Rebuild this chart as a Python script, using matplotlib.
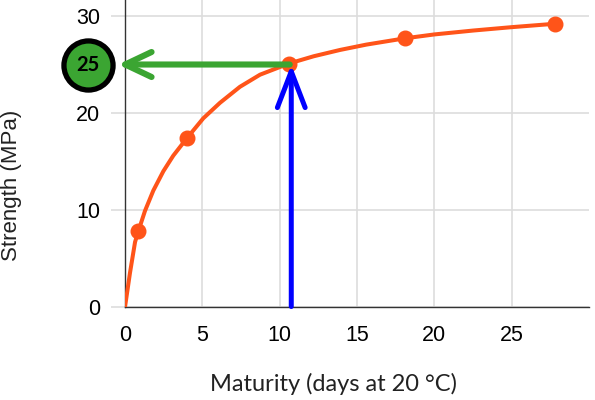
import matplotlib
matplotlib.use("Agg")
import matplotlib.pyplot as plt

# measured strength points (maturity in days at 20 C, strength in MPa)
pt_days = [0.86, 4.0, 10.6, 18.1, 27.8]
pt_mpa = [7.8, 17.4, 25.1, 27.7, 29.2]

# strength-maturity curve
curve_days = [0.0, 0.32, 0.65, 0.86, 1.29, 1.83, 2.48, 3.12, 4.0, 5.06, 6.14, 7.43,
              8.73, 10.6, 12.2, 13.9, 15.6, 18.1, 20.0, 22.5, 25.0, 27.8]
curve_mpa = [0.0, 3.5, 6.7, 7.8, 9.9, 12.0, 14.0, 15.6, 17.4, 19.45, 21.05, 22.7,
             23.95, 25.1, 25.85, 26.5, 27.05, 27.7, 28.1, 28.5, 28.85, 29.2]

target_mpa = 25
target_days = 10.75
x_ticks = [0, 5, 10, 15, 20, 25]
y_ticks = [0, 10, 20, 30]

orange = "#ff5419"
green = "#3ba532"
blue = "#0000ff"

fig = plt.figure(figsize=(5.95, 4.0), dpi=100)
ax = fig.add_axes([125 / 595, 1 - 307 / 400, 464 / 595, 307 / 400])
ax.set_xlim(0, 30)
ax.set_ylim(0, 31.65)

ax.set_xticks(x_ticks)
ax.set_yticks(y_ticks)
ax.grid(True, color="#dddddd", lw=1.2, zorder=0)
ax.set_axisbelow(True)
for s in ["top", "right"]:
    ax.spines[s].set_visible(False)
for s in ["left", "bottom"]:
    ax.spines[s].set_color("#333333")
    ax.spines[s].set_linewidth(1.0)

ax.tick_params(axis="x", length=0, pad=13, labelsize=15.5)
ax.tick_params(axis="y", length=10, width=1.2, color="#dddddd", pad=8, labelsize=15.5)
ax.yaxis.get_major_ticks()[0].tick1line.set_color("#333333")
for lab in ax.get_xticklabels() + ax.get_yticklabels():
    lab.set_family("Liberation Sans")

ax.plot(curve_days, curve_mpa, color=orange, lw=2.9, solid_capstyle="round",
        solid_joinstyle="round", zorder=3)
ax.plot(pt_days, pt_mpa, "o", color=orange, ms=10.5, zorder=4)

# green arrow: strength
ax.annotate("", xy=(-0.45, target_mpa), xytext=(target_days - 0.1, target_mpa),
            annotation_clip=False,
            arrowprops=dict(arrowstyle="->,head_length=0.95,head_width=0.45",
                            color=green, lw=4.4, mutation_scale=20,
                            shrinkA=0, shrinkB=0, capstyle="round", joinstyle="round"),
            zorder=5)
# blue arrow: maturity up to curve
ax.annotate("", xy=(target_days, target_mpa), xytext=(target_days, 0.05),
            annotation_clip=False,
            arrowprops=dict(arrowstyle="->,head_length=1.3,head_width=0.5",
                            color=blue, lw=3.6, mutation_scale=20,
                            shrinkA=0, shrinkB=0, capstyle="round", joinstyle="round"),
            zorder=6)

# result bubble
ax.scatter([-2.4], [target_mpa], s=1250, color=green, edgecolor="black",
           linewidth=3.8, clip_on=False, zorder=7)
ax.text(-2.4, target_mpa, str(target_mpa), ha="center", va="center",
        fontsize=14.5, fontweight="bold", family="Lato", color="black", zorder=8)

fig.text(333 / 595, 1 - 384 / 400, "Maturity (days at 20 \u00b0C)", ha="center", va="center",
         fontsize=17, family="Lato", color="#222222")
fig.text(12 / 595, 1 - 185 / 400, "Strength (MPa)", ha="center", va="center",
         rotation=90, fontsize=16, family="Liberation Sans", color="#222222")

fig.savefig("out.png", dpi=100)
